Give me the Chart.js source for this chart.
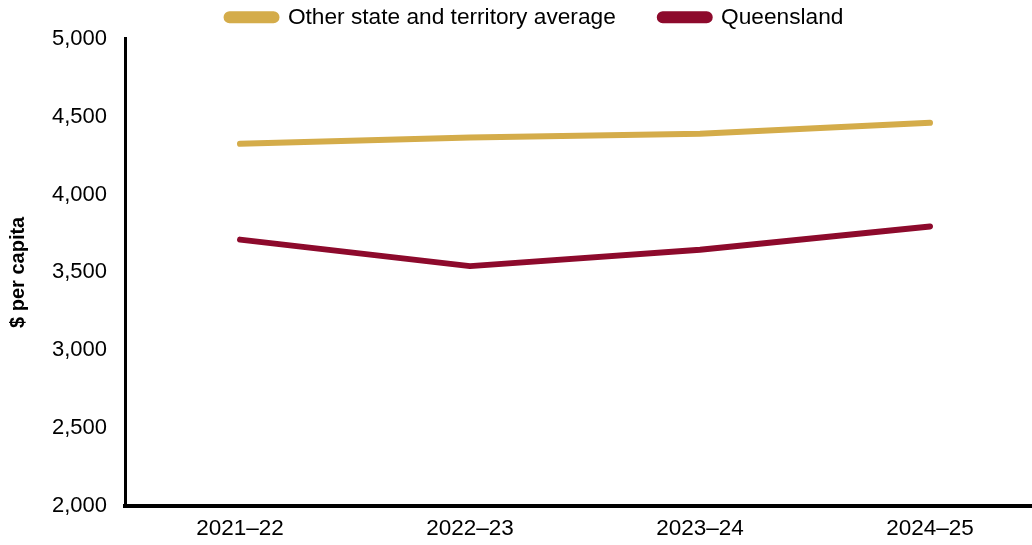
<!DOCTYPE html>
<html>
<head>
<meta charset="utf-8">
<script src="https://cdn.jsdelivr.net/npm/chart.js@4/dist/chart.umd.min.js"></script>
<style>
  html, body { margin: 0; padding: 0; background: #fff; overflow: hidden; }
  #wrap { width: 1070px; height: 545px; }
</style>
</head>
<body>
<div id="wrap"><canvas id="chart" width="1070" height="545"></canvas></div>
<script>
// Spending per capita, Queensland vs the rest
const years = ['2021–22', '2022–23', '2023–24', '2024–25'];
const otherAverage = [4325, 4365, 4390, 4460];
const queensland = [3710, 3540, 3645, 3795];
const yTicks = [2000, 2500, 3000, 3500, 4000, 4500, 5000];

const gold = '#D4AC4A';
const maroon = '#8D0A2C';
const fontFamily = '"Liberation Sans", Arial, sans-serif';

Chart.defaults.font.family = fontFamily;
Chart.defaults.color = '#000';

const ctx = document.getElementById('chart').getContext('2d');
const chart = new Chart(ctx, {
    type: 'line',
    data: {
        labels: years,
        datasets: [
            {
                label: 'Other state and territory average',
                data: otherAverage,
                borderColor: gold,
                backgroundColor: gold,
                borderWidth: 6,
                tension: 0,
                pointRadius: 0,
                borderCapStyle: 'round',
                borderJoinStyle: 'round'
            },
            {
                label: 'Queensland',
                data: queensland,
                borderColor: maroon,
                backgroundColor: maroon,
                borderWidth: 6,
                tension: 0,
                pointRadius: 0,
                borderCapStyle: 'round',
                borderJoinStyle: 'round'
            }
        ]
    },
    options: {
        responsive: false,
        animation: false,
        layout: {
            padding: { top: -38, left: 25, right: 25, bottom: -6 }
        },
        plugins: {
            legend: {
                position: 'top',
                labels: {
                    boxWidth: 50,
                    boxHeight: 6,
                    useBorderRadius: true,
                    borderRadius: 3,
                    padding: 44,
                    color: '#000',
                    font: { size: 22.7 }
                }
            },
            tooltip: { enabled: false }
        },
        scales: {
            x: {
                offset: true,
                grid: { display: false, drawTicks: false },
                border: { display: true, color: '#000', width: 4 },
                ticks: { padding: 9, font: { size: 22.5 }, color: '#000' }
            },
            y: {
                min: 2000,
                max: 5000,
                grid: { display: false, drawTicks: false },
                border: { display: true, color: '#000', width: 3 },
                afterBuildTicks: axis => {
                    axis.ticks = yTicks.map(v => ({ value: v }));
                },
                afterFit: axis => {
                    axis.width = 100;
                },
                ticks: {
                    padding: 18,
                    font: { size: 22 },
                    color: '#000',
                    callback: v => v.toLocaleString('en-US')
                },
                title: {
                    display: true,
                    text: '$ per capita',
                    color: '#000',
                    font: { size: 20, weight: 'bold' },
                    padding: { top: -19, bottom: 0 }
                }
            }
        }
    }
});
</script>
</body>
</html>
